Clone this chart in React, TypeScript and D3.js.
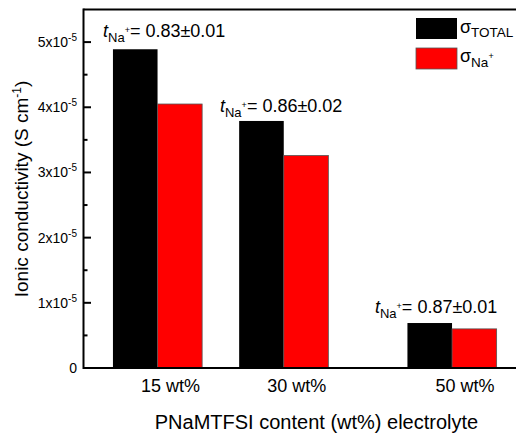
import React from "react";
import * as d3 from "d3";

const categories = [15, 30, 50];
const categoryLabels = ["15 wt%", "30 wt%", "50 wt%"];
const sigmaTotal = [4.89e-5, 3.79e-5, 0.69e-5];
const sigmaNa = [4.05e-5, 3.26e-5, 0.6e-5];
const transferNumbers = ["0.83±0.01", "0.86±0.02", "0.87±0.01"];
const annotX = [8.52, 22.42, 40.84];
const annotY = [5.078e-5, 3.928e-5, 0.839e-5];
const yMajorTicks = [0, 1e-5, 2e-5, 3e-5, 4e-5, 5e-5];
const yMinorTicks = [0.5e-5, 1.5e-5, 2.5e-5, 3.5e-5, 4.5e-5];
const yTickMantissa = ["0", "1", "2", "3", "4", "5"];

const W = 516;
const H = 435;
const left = 83.5;
const top = 9.5;
const bottom = 368;
const barW = 5.3;
const FONT = "'Liberation Sans', Arial, Helvetica, sans-serif";

export default function App() {
  const x = d3.scaleLinear().domain([6.2, 58]).range([left, left + 51.8 * 8.414]);
  const y = d3.scaleLinear().domain([0, 5.5e-5]).range([bottom, top]);
  const right = x(58);

  return (
    <svg
      width={W}
      height={H}
      style={{ position: "absolute", left: 0, top: 0, background: "#fff" }}
      fontFamily={FONT}
    >
      {/* bars */}
      {categories.map((c, i) => (
        <g key={c}>
          <rect
            x={x(c - barW)}
            y={y(sigmaTotal[i])}
            width={x(c) - x(c - barW)}
            height={bottom - y(sigmaTotal[i])}
            fill="#000"
          />
          <rect
            x={x(c)}
            y={y(sigmaNa[i])}
            width={x(c + barW) - x(c)}
            height={bottom - y(sigmaNa[i])}
            fill="#ff0000"
            stroke="#555"
            strokeWidth={0.8}
          />
        </g>
      ))}

      {/* frame */}
      <line x1={left} x2={right} y1={top} y2={top} stroke="#000" strokeWidth={2} />
      <line x1={left} x2={right} y1={bottom} y2={bottom} stroke="#000" strokeWidth={2} />
      <line x1={left} x2={left} y1={top - 1} y2={bottom + 1} stroke="#000" strokeWidth={2} />

      {/* y ticks */}
      {yMajorTicks.map((t) => (
        <line key={"M" + t} x1={left} x2={left + 7.5} y1={y(t)} y2={y(t)} stroke="#000" strokeWidth={2} />
      ))}
      {yMinorTicks.map((t) => (
        <line key={"m" + t} x1={left} x2={left + 4} y1={y(t)} y2={y(t)} stroke="#000" strokeWidth={2} />
      ))}
      {yMajorTicks.map((t, i) => (
        <text key={"l" + t} x={77} y={y(t) + 5} fontSize={14} textAnchor="end" fill="#000">
          {t === 0 ? (
            "0"
          ) : (
            <>
              {yTickMantissa[i] + "x10"}
              <tspan fontSize={10} dy={-6}>
                -5
              </tspan>
            </>
          )}
        </text>
      ))}

      {/* x category labels */}
      {categories.map((c, i) => (
        <text key={"xl" + c} x={x(c) + 13} y={392} fontSize={18} textAnchor="middle" fill="#000">
          {categoryLabels[i]}
        </text>
      ))}

      {/* axis titles */}
      <text x={316.5} y={429} fontSize={20} textAnchor="middle" fill="#000">
        PNaMTFSI content (wt%) electrolyte
      </text>
      <text transform="translate(28,189) rotate(-90)" fontSize={19} textAnchor="middle" fill="#000">
        Ionic conductivity (S cm
        <tspan fontSize={12} dy={-7}>
          -1
        </tspan>
        <tspan dy={7}>)</tspan>
      </text>

      {/* annotations */}
      {categories.map((c, i) => (
        <text key={"an" + c} x={x(annotX[i])} y={y(annotY[i])} fontSize={18} fill="#000">
          <tspan fontStyle="italic">t</tspan>
          <tspan fontSize={13} dy={5}>
            Na
          </tspan>
          <tspan fontSize={9} dy={-9}>
            +
          </tspan>
          <tspan fontSize={18} dy={4}>
            = {transferNumbers[i]}
          </tspan>
        </text>
      ))}

      {/* legend */}
      <rect x={416} y={18} width={41} height={21} fill="#000" />
      <rect x={416} y={48} width={41} height={21} fill="#ff0000" stroke="#555" strokeWidth={0.8} />
      <text x={460} y={33} fontSize={18} fill="#000">
        σ
        <tspan fontSize={13.5} dy={4}>
          TOTAL
        </tspan>
      </text>
      <text x={460} y={62} fontSize={18} fill="#000">
        σ
        <tspan fontSize={13.5} dy={5}>
          Na
        </tspan>
        <tspan fontSize={9} dy={-8}>
          +
        </tspan>
      </text>
    </svg>
  );
}
